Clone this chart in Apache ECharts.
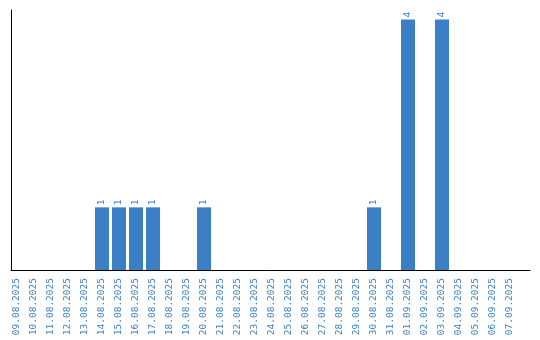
<!DOCTYPE html>
<html>
<head>
<meta charset="utf-8">
<script src="https://cdn.jsdelivr.net/npm/echarts@6/dist/echarts.min.js"></script>
<style>html,body{margin:0;padding:0;background:#fff}#c{width:540px;height:340px}</style>
</head>
<body>
<div id="c"></div>
<script>
var categories = ["09.08.2025","10.08.2025","11.08.2025","12.08.2025","13.08.2025","14.08.2025","15.08.2025","16.08.2025","17.08.2025","18.08.2025","19.08.2025","20.08.2025","21.08.2025","22.08.2025","23.08.2025","24.08.2025","25.08.2025","26.08.2025","27.08.2025","28.08.2025","29.08.2025","30.08.2025","31.08.2025","01.09.2025","02.09.2025","03.09.2025","04.09.2025","05.09.2025","06.09.2025","07.09.2025"];
var counts = [0,0,0,0,0,1,1,1,1,0,0,1,0,0,0,0,0,0,0,0,0,1,0,4,0,4,0,0,0,0];

var blue = '#3b7fc4';
var chart = echarts.init(document.getElementById('c'), null, {renderer: 'canvas'});
chart.setOption({
  animation: false,
  grid: [
    {left: 8.5, top: 10, width: 510, height: 260},
    {left: 11, top: 10, width: 519, height: 260}
  ],
  xAxis: [
    {
      type: 'category', gridIndex: 0, data: categories,
      axisLine: {show: false}, axisTick: {show: false},
      axisLabel: {rotate: 90, interval: 0, margin: 8, color: blue, fontFamily: 'DejaVu Sans Mono, monospace', fontSize: 9.5}
    },
    {type: 'value', gridIndex: 1, min: 0, max: 1, show: true,
      axisLine: {show: true, lineStyle: {color: '#000', width: 1}},
      axisTick: {show: false}, axisLabel: {show: false}, splitLine: {show: false}}
  ],
  yAxis: [
    {type: 'value', gridIndex: 0, min: 0, max: 4.15, show: false, splitLine: {show: false}},
    {type: 'value', gridIndex: 1, min: 0, max: 1, show: true,
      axisLine: {show: true, lineStyle: {color: '#000', width: 1}},
      axisTick: {show: false}, axisLabel: {show: false}, splitLine: {show: false}}
  ],
  series: [{
    type: 'bar', xAxisIndex: 0, yAxisIndex: 0,
    data: counts.map(function (v) { return v === 0 ? null : v; }),
    barWidth: 14,
    itemStyle: {color: blue},
    label: {
      show: true, position: 'top', rotate: 90, distance: 2,
      align: 'left', verticalAlign: 'middle',
      color: blue, fontFamily: 'DejaVu Sans Mono, monospace', fontSize: 9.5
    }
  }]
});
</script>
</body>
</html>
